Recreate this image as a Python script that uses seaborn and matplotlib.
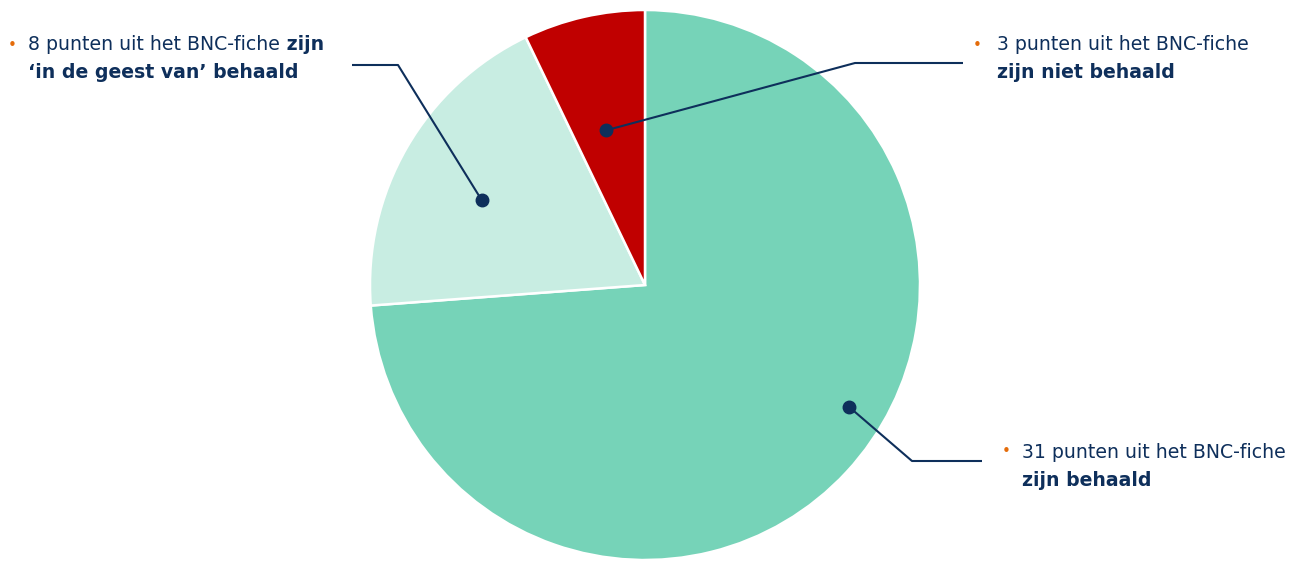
import numpy as np
import seaborn as sns
import matplotlib.pyplot as plt

# data
labels = ["behaald", "in de geest van", "niet behaald"]
punten = [31, 8, 3]
colors = ["#76D3B8", "#C8EDE2", "#C00000"]

# callout texts: (normal part, bold tail of line 1, bold line 2)
texts = [
    ("31 punten uit het BNC-fiche", "", "zijn behaald"),
    ("8 punten uit het BNC-fiche", " zijn", "\u2018in de geest van\u2019 behaald"),
    ("3 punten uit het BNC-fiche", "", "zijn niet behaald"),
]

NAVY = "#0E2F5B"
ORANGE = "#E46C0A"
W, H = 1299, 568

sns.set_theme(style="white")
plt.rcParams["font.family"] = ["DejaVu Sans"]

fig = plt.figure(figsize=(W / 100, H / 100), dpi=100)
ax = fig.add_axes([0, 0, 1, 1])

cx, cy, R = 645, H - 285, 275
wedges, _ = ax.pie(punten, colors=colors, startangle=90, counterclock=False,
                   center=(cx, cy), radius=R,
                   wedgeprops=dict(edgecolor="white", linewidth=1.8))
ax.set_xlim(0, W)
ax.set_ylim(0, H)
ax.set_aspect("equal")
ax.axis("off")

# anchor placement inside each wedge (angle offset from mid, radius fraction)
anchors = [(12, 0.865), (2.5, 0.67), (1.3, 0.58)]
# elbow point and end of the horizontal leader, text position (pixel coords, y from top)
elbows = [((912, 461), (982, 461)), ((398, 65), (352, 65)), ((855, 63), (963, 63))]
text_pos = [(1022, 452), (28, 45), (997, 45)]
bullet_x = [1002, 8, 973]

fs = 13.6
for w, (da, rf), (e1, e2), (tx, ty), bx, (t1, tb, t2) in zip(
        wedges, anchors, elbows, text_pos, bullet_x, texts):
    mid = np.deg2rad((w.theta1 + w.theta2) / 2 + da)
    px, py = cx + rf * R * np.cos(mid), cy + rf * R * np.sin(mid)
    ax.plot([px, e1[0], e2[0]], [py, H - e1[1], H - e2[1]],
            color=NAVY, lw=1.5, solid_capstyle="butt")
    ax.plot(px, py, "o", color=NAVY, ms=9)
    ax.text(bx, H - ty, "\u2022", color=ORANGE, fontsize=11, va="center", ha="left")
    t = ax.text(tx, H - ty, t1, color=NAVY, fontsize=fs, va="center", ha="left")
    if tb:
        ax.annotate(tb, xy=(1, 0), xycoords=t, va="bottom", ha="left",
                    color=NAVY, fontsize=fs, fontweight="bold")
    ax.text(tx, H - ty - 28, t2, color=NAVY, fontsize=fs, va="center",
            ha="left", fontweight="bold")

fig.savefig("out.png", dpi=100, facecolor="white")
